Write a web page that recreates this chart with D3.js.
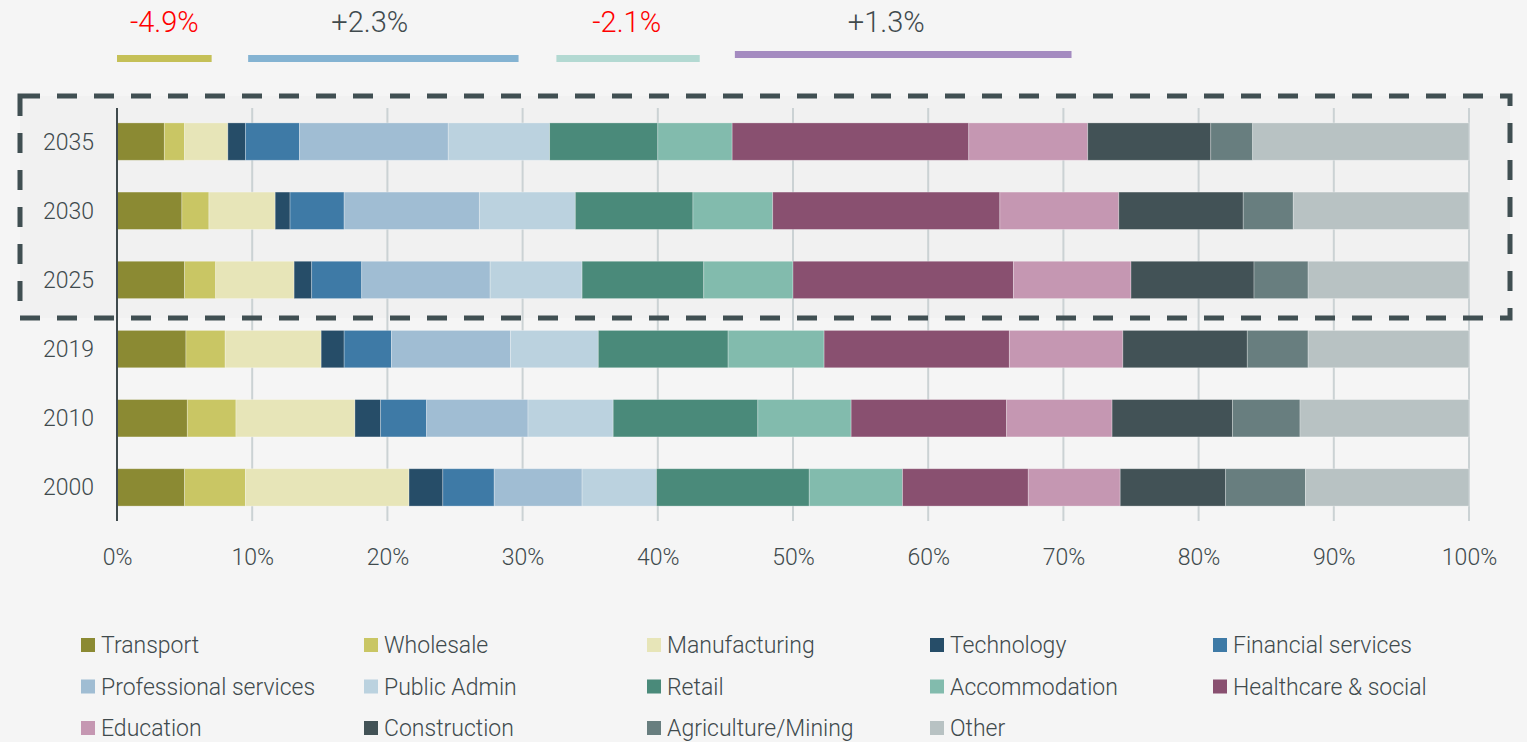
<!DOCTYPE html>
<html>
<head>
<meta charset="utf-8">
<script src="https://cdn.jsdelivr.net/npm/d3@7"></script>
<style>
  html, body { margin: 0; padding: 0; background: #f5f5f5; }
  svg { display: block; font-family: Roboto, "Liberation Sans", sans-serif; font-weight: 300; }
</style>
</head>
<body>
<svg id="chart"></svg>
<script>
var years = ["2035", "2030", "2025", "2019", "2010", "2000"];

var sectors = ["Transport", "Wholesale", "Manufacturing", "Technology", "Financial services",
    "Professional services", "Public Admin", "Retail", "Accommodation", "Healthcare & social",
    "Education", "Construction", "Agriculture/Mining", "Other"];

var colours = ["#8b8a33", "#c9c664", "#e7e5b8", "#264d68", "#3e7aa6",
    "#a0bdd3", "#bbd2df", "#4a8a7a", "#82bbad", "#895070",
    "#c597b2", "#425256", "#687e7f", "#b8c2c3"];

// share of employment (%) per sector, same order as sectors
var share2035 = [3.5, 1.5, 3.2, 1.3, 4.0, 11.0, 7.5, 8.0, 5.5, 17.5, 8.8, 9.1, 3.1, 16.0];
var share2030 = [4.8, 2.0, 4.9, 1.1, 4.0, 10.0, 7.1, 8.7, 5.9, 16.8, 8.8, 9.2, 3.7, 13.0];
var share2025 = [5.0, 2.3, 5.8, 1.3, 3.7, 9.5, 6.8, 9.0, 6.6, 16.3, 8.7, 9.1, 4.0, 11.9];
var share2019 = [5.1, 2.9, 7.1, 1.7, 3.5, 8.8, 6.5, 9.6, 7.1, 13.7, 8.4, 9.2, 4.5, 11.9];
var share2010 = [5.2, 3.6, 8.8, 1.9, 3.4, 7.5, 6.3, 10.7, 6.9, 11.5, 7.8, 8.9, 5.0, 12.5];
var share2000 = [5.0, 4.5, 12.1, 2.5, 3.8, 6.5, 5.5, 11.3, 6.9, 9.3, 6.8, 7.8, 5.9, 12.1];

var xTicks = [0, 10, 20, 30, 40, 50, 60, 70, 80, 90, 100];

// change annotations above the chart: span in % of axis
var changeLabels = ["-4.9%", "+2.3%", "-2.1%", "+1.3%"];
var changeFrom = [0, 9.7, 32.5, 45.7];
var changeTo = [7.0, 29.7, 43.1, 70.6];
var changeLabelAt = [3.5, 18.7, 37.7, 56.9];
var changeColours = ["#c5c057", "#84b3d2", "#b3d9d2", "#a48bc0"];

var width = 1527, height = 742;
var ink = "#404a4d";

var svg = d3.select("#chart").attr("width", width).attr("height", height);
svg.append("rect").attr("width", width).attr("height", height).attr("fill", "#f5f5f5");

var x = d3.scaleLinear().domain([0, 100]).range([117, 1469]);
var y = d3.scaleBand().domain(years).range([107, 522]).paddingInner(0.46).paddingOuter(0.23);

var shares = {"2035": share2035, "2030": share2030, "2025": share2025,
    "2019": share2019, "2010": share2010, "2000": share2000};

var rows = years.map(function(yr) {
    var row = {year: yr};
    sectors.forEach(function(s, i) { row[s] = shares[yr][i]; });
    return row;
});
var stacked = d3.stack().keys(sectors)(rows);

// highlighted forecast box
var boxTop = 96, boxBottom = 318;
svg.append("rect")
    .attr("x", 20).attr("y", boxTop)
    .attr("width", 1490).attr("height", boxBottom - boxTop)
    .attr("fill", "#f1f1f1");

// gridlines
svg.append("g")
    .selectAll("line")
    .data(xTicks.slice(1))
    .join("line")
    .attr("x1", d => x(d)).attr("x2", d => x(d))
    .attr("y1", 108).attr("y2", 521)
    .attr("stroke", "#cbd2d4").attr("stroke-width", 2);

// bars
svg.append("g")
    .selectAll("g")
    .data(stacked)
    .join("g")
    .attr("fill", (d, i) => colours[i])
    .selectAll("rect")
    .data(d => d)
    .join("rect")
    .attr("x", d => x(d[0]))
    .attr("width", d => x(d[1]) - x(d[0]))
    .attr("y", d => y(d.data.year))
    .attr("height", y.bandwidth())
    .attr("stroke", "#ffffff").attr("stroke-opacity", 0.35).attr("stroke-width", 0.8);

// y axis line
svg.append("line")
    .attr("x1", x(0)).attr("x2", x(0))
    .attr("y1", 108).attr("y2", 521)
    .attr("stroke", ink).attr("stroke-width", 2);

// year labels
svg.append("g")
    .selectAll("text")
    .data(years)
    .join("text")
    .attr("x", 94)
    .attr("y", d => y(d) + y.bandwidth() / 2)
    .attr("dy", "0.35em")
    .attr("text-anchor", "end")
    .attr("font-size", 23)
    .attr("fill", ink)
    .text(d => d);

// x axis labels
var xAxis = svg.append("g")
    .attr("transform", "translate(0,546)")
    .call(d3.axisBottom(x).tickValues(xTicks).tickFormat(d => d + "%").tickSize(0));
xAxis.select(".domain").remove();
xAxis.selectAll("text")
    .attr("font-size", 23)
    .attr("font-family", "Roboto, sans-serif")
    .attr("font-weight", 300)
    .attr("fill", ink);

// dashed outline
svg.append("rect")
    .attr("x", 20).attr("y", boxTop)
    .attr("width", 1490).attr("height", boxBottom - boxTop)
    .attr("fill", "none")
    .attr("stroke", "#404f52").attr("stroke-width", 5)
    .attr("stroke-dasharray", "20,17");

// change annotations
var notes = svg.append("g");
notes.selectAll("rect")
    .data(changeLabels)
    .join("rect")
    .attr("x", (d, i) => x(changeFrom[i]))
    .attr("width", (d, i) => x(changeTo[i]) - x(changeFrom[i]))
    .attr("y", (d, i) => i === 3 ? 51 : 55)
    .attr("height", 7)
    .attr("fill", (d, i) => changeColours[i]);
notes.selectAll("text")
    .data(changeLabels)
    .join("text")
    .attr("x", (d, i) => x(changeLabelAt[i]))
    .attr("y", 32)
    .attr("text-anchor", "middle")
    .attr("font-size", 29)
    .attr("fill", d => d[0] === "-" ? "#ff0000" : ink)
    .text(d => d);

// legend
var legend = svg.append("g");
var item = legend.selectAll("g")
    .data(sectors)
    .join("g")
    .attr("transform", (d, i) => "translate(" + (81 + (i % 5) * 283) + "," + (645 + Math.floor(i / 5) * 41.5) + ")");
item.append("rect")
    .attr("x", 0).attr("y", -7)
    .attr("width", 14).attr("height", 14)
    .attr("fill", (d, i) => colours[i]);
item.append("text")
    .attr("x", 20).attr("y", 0)
    .attr("dy", "0.35em")
    .attr("font-size", 23)
    .attr("fill", ink)
    .text(d => d);
</script>
</body>
</html>
